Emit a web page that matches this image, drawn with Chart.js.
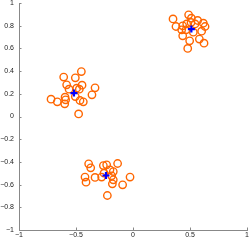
<!DOCTYPE html>
<html>
<head>
<meta charset="utf-8">
<script src="https://cdn.jsdelivr.net/npm/chart.js@4/dist/chart.umd.min.js"></script>
<style>
  html, body { margin: 0; padding: 0; background: #fff; }
  canvas { display: block; }
</style>
</head>
<body>
<canvas id="chart" width="249" height="244"></canvas>
<script>
// cluster points
const topRightX = [0.351, 0.488, 0.377, 0.436, 0.471, 0.512, 0.567, 0.617, 0.632, 0.602, 0.529, 0.436, 0.497, 0.582, 0.623, 0.480, 0.427, 0.544, 0.465, 0.509];
const topRightY = [0.860, 0.896, 0.793, 0.799, 0.816, 0.866, 0.846, 0.822, 0.793, 0.752, 0.743, 0.711, 0.667, 0.682, 0.646, 0.600, 0.764, 0.816, 0.764, 0.828];

const midLeftX = [-0.608, -0.506, -0.453, -0.582, -0.561, -0.447, -0.471, -0.333, -0.360, -0.719, -0.664, -0.591, -0.599, -0.465, -0.436, -0.477, -0.494, -0.506, -0.596];
const midLeftY = [0.347, 0.341, 0.396, 0.279, 0.241, 0.276, 0.241, 0.253, 0.191, 0.153, 0.129, 0.147, 0.112, 0.141, 0.129, 0.023, 0.250, 0.176, 0.170];

const bottomX = [-0.389, -0.371, -0.135, -0.260, -0.231, -0.421, -0.412, -0.333, -0.275, -0.173, -0.187, -0.181, -0.091, -0.026, -0.225, -0.202, -0.173, -0.254];
const bottomY = [-0.417, -0.452, -0.414, -0.432, -0.426, -0.534, -0.579, -0.537, -0.534, -0.485, -0.523, -0.593, -0.602, -0.534, -0.696, -0.470, -0.558, -0.499];

const centerX = [0.512, -0.518, -0.237];
const centerY = [0.770, 0.206, -0.520];

const tickValues = [-1, -0.8, -0.6, -0.4, -0.2, 0, 0.2, 0.4, 0.6, 0.8, 1];
const xTickValues = [-1, -0.5, 0, 0.5, 1];

function toPoints(xs, ys) {
  return xs.map((x, i) => ({ x: x, y: ys[i] }));
}

const allPoints = toPoints(topRightX, topRightY)
  .concat(toPoints(midLeftX, midLeftY))
  .concat(toPoints(bottomX, bottomY));

const fmt = v => {
  let s = String(Math.round(v * 10) / 10);
  return s.replace('-', '\u2212');
};

// no extra room for the end labels, the frame goes right to the edges
const noPad = s => {
  s.paddingLeft = 0;
  s.paddingRight = 0;
  s.paddingTop = 0;
  s.paddingBottom = 0;
};

// small tick marks pointing into the plot, like matlab
const innerTicks = {
  id: 'innerTicks',
  afterDraw(chart) {
    const ctx = chart.ctx;
    const xs = chart.scales.x, ys = chart.scales.y;
    const area = chart.chartArea;
    ctx.save();
    ctx.strokeStyle = '#888';
    ctx.lineWidth = 1;
    ctx.beginPath();
    ys.ticks.forEach(t => {
      const py = Math.round(ys.getPixelForValue(t.value)) + 0.5;
      ctx.moveTo(area.left, py);
      ctx.lineTo(area.left + 2.5, py);
    });
    xs.ticks.forEach(t => {
      const px = Math.round(xs.getPixelForValue(t.value)) + 0.5;
      ctx.moveTo(px, area.bottom);
      ctx.lineTo(px, area.bottom - 2.5);
    });
    ctx.stroke();
    ctx.restore();
  }
};

new Chart(document.getElementById('chart'), {
  type: 'scatter',
  data: {
    datasets: [
      {
        label: 'centroids',
        data: toPoints(centerX, centerY),
        pointStyle: 'cross',
        radius: 3.5,
        borderWidth: 2.2,
        borderColor: '#0000ff',
        backgroundColor: '#0000ff'
      },
      {
        label: 'points',
        data: allPoints,
        pointStyle: 'circle',
        radius: 3.7,
        borderWidth: 1.4,
        borderColor: '#ff6600',
        backgroundColor: 'rgba(0,0,0,0)'
      }
    ]
  },
  options: {
    responsive: false,
    animation: false,
    layout: { autoPadding: false, padding: { top: 3, right: 2, left: 0, bottom: 0 } },
    plugins: { legend: { display: false }, tooltip: { enabled: false } },
    scales: {
      x: {
        type: 'linear',
        min: -1, max: 1,
        afterBuildTicks: s => { s.ticks = xTickValues.map(v => ({ value: v })); },
        afterFit: s => { s.height = 14; noPad(s); },
        grid: { display: true, drawOnChartArea: false, drawTicks: false },
        border: { display: true, color: '#888', width: 1 },
        ticks: {
          padding: 1,
          color: '#222',
          font: { family: 'Liberation Sans', size: 7 },
          maxRotation: 0,
          callback: v => fmt(v)
        }
      },
      y: {
        type: 'linear',
        min: -1, max: 1,
        afterBuildTicks: s => { s.ticks = tickValues.map(v => ({ value: v })); },
        afterFit: s => { s.width = 19; noPad(s); },
        grid: { display: true, drawOnChartArea: false, drawTicks: false },
        border: { display: true, color: '#888', width: 1 },
        ticks: {
          padding: 5,
          color: '#222',
          font: { family: 'Liberation Sans', size: 7 },
          callback: v => fmt(v)
        }
      }
    }
  },
  plugins: [innerTicks]
});
</script>
</body>
</html>
